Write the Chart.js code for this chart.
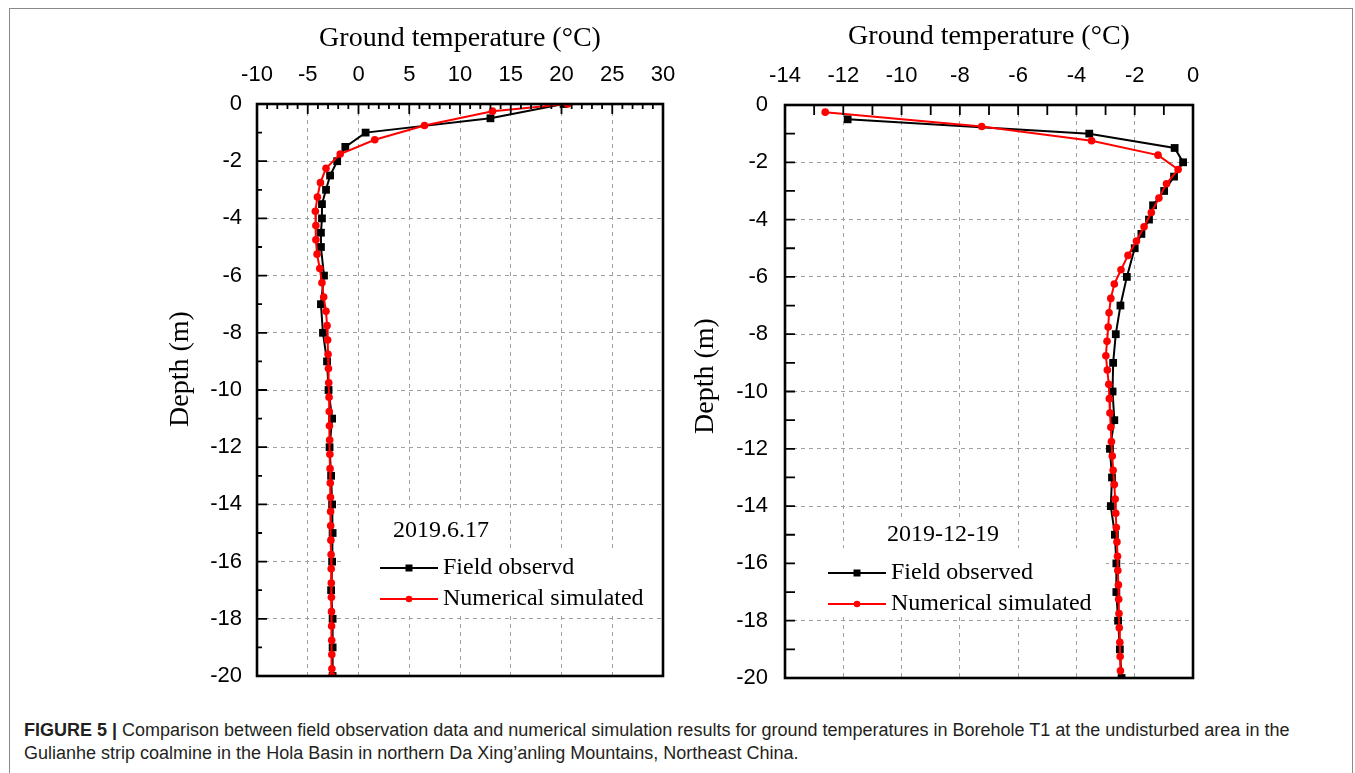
<!DOCTYPE html>
<html>
<head>
<meta charset="utf-8">
<script src="https://cdn.jsdelivr.net/npm/chart.js@4/dist/chart.umd.min.js"></script>
<style>
  body { margin: 0; background: #fff; width: 1355px; height: 773px; overflow: hidden; position: relative; }
  #frame { position: absolute; left: 9px; top: 8px; width: 1344px; height: 800px; border: 1px solid #8a8a8a; box-sizing: border-box; }
  canvas { position: absolute; top: 0; }
  #c1 { left: 140px; }
  #c2 { left: 680px; }
  #caption { position: absolute; left: 24px; top: 719px; width: 1285px; font: 18px Arial, "Liberation Sans", sans-serif; line-height: 23px; color: #231f20; }
  #caption b { font-weight: bold; }
</style>
</head>
<body>
<div id="frame"></div>
<canvas id="c1" width="540" height="700"></canvas>
<canvas id="c2" width="540" height="700"></canvas>
<div id="caption"><b>FIGURE 5 |</b> Comparison between field observation data and numerical simulation results for ground temperatures in Borehole T1 at the undisturbed area in the Gulianhe strip coalmine in the Hola Basin in northern Da Xing’anling Mountains, Northeast China.</div>
<script>
// ---------- data: 2019.6.17
const obsDepthJun = [0, -0.5, -1, -1.5, -2, -2.5, -3, -3.5, -4, -4.5, -5, -6, -7, -8, -9, -10, -11, -12, -13, -14, -15, -16, -17, -18, -19, -20];
const obsTempJun  = [20.2, 13.0, 0.7, -1.3, -2.1, -2.8, -3.2, -3.6, -3.6, -3.7, -3.7, -3.4, -3.7, -3.5, -3.1, -2.95, -2.6, -2.85, -2.7, -2.6, -2.55, -2.6, -2.7, -2.55, -2.55, -2.55];
const simDepthJun = [0, -0.25, -0.75, -1.25, -1.75, -2.25, -2.75, -3.25, -3.75, -4.25, -4.75, -5.25, -5.75, -6.25, -6.75, -7.25, -7.75, -8.25, -8.75, -9.25, -9.75,
  -10.25, -10.75, -11.25, -11.75, -12.25, -12.75, -13.25, -13.75, -14.25, -14.75, -15.25, -15.75, -16.25, -16.75, -17.25, -17.75, -18.25, -18.75, -19.25, -19.75, -20];
const simTempJun  = [20.6, 13.2, 6.5, 1.6, -1.8, -3.2, -3.75, -4.05, -4.25, -4.2, -4.2, -4.08, -3.82, -3.6, -3.43, -3.2, -3.1, -3.04, -3.0, -2.96, -2.93,
  -2.9, -2.88, -2.86, -2.84, -2.82, -2.8, -2.78, -2.76, -2.75, -2.74, -2.72, -2.7, -2.69, -2.68, -2.67, -2.66, -2.65, -2.64, -2.63, -2.62, -2.62];

// ---------- data: 2019-12-19
const obsDepthDec = [-0.5, -1, -1.5, -2, -2.5, -3, -3.5, -4, -4.5, -5, -6, -7, -8, -9, -10, -11, -12, -13, -14, -15, -16, -17, -18, -19, -20];
const obsTempDec  = [-11.85, -3.56, -0.63, -0.34, -0.65, -0.99, -1.37, -1.51, -1.77, -2.0, -2.27, -2.49, -2.65, -2.74, -2.76, -2.7, -2.85, -2.78, -2.82, -2.68, -2.63, -2.63, -2.57, -2.51, -2.45];
const simDepthDec = [-0.25, -0.75, -1.25, -1.75, -2.25, -2.75, -3.25, -3.75, -4.25, -4.75, -5.25, -5.75, -6.25, -6.75, -7.25, -7.75, -8.25, -8.75, -9.25, -9.75,
  -10.25, -10.75, -11.25, -11.75, -12.25, -12.75, -13.25, -13.75, -14.25, -14.75, -15.25, -15.75, -16.25, -16.75, -17.25, -17.75, -18.25, -18.75, -19.25, -19.75];
const simTempDec  = [-12.62, -7.25, -3.48, -1.2, -0.51, -0.91, -1.17, -1.43, -1.68, -1.94, -2.23, -2.47, -2.7, -2.82, -2.88, -2.91, -2.95, -2.99, -2.94, -2.89,
  -2.87, -2.85, -2.82, -2.8, -2.77, -2.74, -2.7, -2.67, -2.65, -2.63, -2.61, -2.59, -2.58, -2.56, -2.55, -2.54, -2.53, -2.51, -2.5, -2.49];

const depthTicks = [0, -2, -4, -6, -8, -10, -12, -14, -16, -18, -20];
const tempTicksJun = [-10, -5, 0, 5, 10, 15, 20, 25, 30];
const tempTicksDec = [-14, -12, -10, -8, -6, -4, -2, 0];

const SERIF = '"Times New Roman", "Liberation Serif", serif';
const SANS = 'Arial, "Liberation Sans", sans-serif';

function pts(xs, ys) { return xs.map((v, i) => ({x: v, y: ys[i]})); }

// box, inner ticks, white masks, y title, date text and legend
const framePlugin = {
  id: 'framePlugin',
  beforeDatasetsDraw(chart, args, o) {
    const ctx = chart.ctx;
    ctx.save();
    ctx.fillStyle = '#fff';
    o.masks.forEach(m => ctx.fillRect(m[0], m[1], m[2], m[3]));
    ctx.restore();
  },
  afterDatasetsDraw(chart, args, o) {
    const {ctx, chartArea: a, scales: {x, y}} = chart;
    ctx.save();
    ctx.strokeStyle = '#000';
    ctx.lineWidth = 1.8;
    ctx.beginPath();
    for (let v = x.min; v <= x.max + 1e-9; v += o.xMinor) {
      const px = x.getPixelForValue(v);
      const r = v / o.xMajor;
      const major = Math.abs(r - Math.round(r)) < 1e-6;
      ctx.moveTo(px, a.top);
      ctx.lineTo(px, a.top + (major ? o.majorLen : o.minorLen));
    }
    for (let v = y.min; v <= y.max + 1e-9; v += 1) {
      const py = y.getPixelForValue(v);
      const major = Math.abs(v % 2) < 1e-6;
      ctx.moveTo(a.left, py);
      ctx.lineTo(a.left + (major ? o.majorLen : o.minorLen), py);
    }
    ctx.stroke();
    ctx.lineWidth = 2.6;
    ctx.strokeRect(a.left, a.top, a.right - a.left, a.bottom - a.top);
    ctx.restore();
  },
  afterDraw(chart, args, o) {
    const ctx = chart.ctx;
    ctx.save();
    ctx.fillStyle = '#000';
    ctx.textBaseline = 'middle';
    ctx.textAlign = 'center';
    ctx.font = '28px ' + SERIF;
    ctx.save();
    ctx.translate(o.yTitle[0], o.yTitle[1]);
    ctx.rotate(-Math.PI / 2);
    ctx.fillText('Depth (m)', 0, 0);
    ctx.restore();
    ctx.font = '24px ' + SERIF;
    ctx.textAlign = 'left';
    ctx.fillText(o.date[0], o.date[1], o.date[2]);
    chart.data.datasets.forEach((ds, i) => {
      const ly = o.legend.y + i * o.legend.gap;
      const x0 = o.legend.x, x1 = o.legend.x + o.legend.len;
      ctx.strokeStyle = ds.borderColor;
      ctx.lineWidth = ds.borderWidth;
      ctx.beginPath();
      ctx.moveTo(x0, ly);
      ctx.lineTo(x1, ly);
      ctx.stroke();
      ctx.fillStyle = ds.backgroundColor;
      const mx = (x0 + x1) / 2;
      ctx.beginPath();
      if (ds.pointStyle === 'rect') ctx.rect(mx - 3.5, ly - 3.5, 7, 7);
      else ctx.arc(mx, ly, 3.3, 0, Math.PI * 2);
      ctx.fill();
      ctx.fillStyle = '#000';
      ctx.fillText(ds.label, x1 + 5, ly);
    });
    ctx.restore();
  }
};

function makeChart(id, cfg) {
  return new Chart(document.getElementById(id), {
    type: 'scatter',
    data: {
      datasets: [{
        label: cfg.obsLabel,
        data: pts(cfg.obsT, cfg.obsD),
        showLine: true,
        borderColor: '#000',
        backgroundColor: '#000',
        borderWidth: 2,
        pointStyle: 'rect',
        pointRadius: 5.5,
        pointBorderWidth: 0,
        order: 1
      }, {
        label: 'Numerical simulated',
        data: pts(cfg.simT, cfg.simD),
        showLine: true,
        borderColor: '#ff0000',
        backgroundColor: '#ff0000',
        borderWidth: 2,
        pointStyle: 'circle',
        pointRadius: 3.8,
        pointBorderWidth: 0,
        order: 0
      }]
    },
    options: {
      responsive: false,
      animation: false,
      devicePixelRatio: 1,
      layout: { padding: cfg.pad },
      plugins: {
        legend: { display: false },
        tooltip: { enabled: false },
        framePlugin: cfg.frame
      },
      scales: {
        x: {
          type: 'linear',
          position: 'top',
          min: cfg.xTicks[0],
          max: cfg.xTicks[cfg.xTicks.length - 1],
          afterBuildTicks: s => { s.ticks = cfg.xTicks.map(v => ({value: v})); },
          afterFit: s => { s.height = cfg.xH; s.paddingLeft = 0; s.paddingRight = 0; },
          grid: { color: '#a0a0a0', lineWidth: 1, drawTicks: false },
          border: { display: false, dash: [4, 4] },
          ticks: { color: '#000', padding: 16, font: { family: SANS, size: 22 } },
          title: { display: true, text: 'Ground temperature (°C)', color: '#000',
                   font: { family: SERIF, size: 28 }, padding: { top: cfg.xTitlePad, bottom: 0 } }
        },
        y: {
          type: 'linear',
          position: 'left',
          min: -20,
          max: 0,
          afterBuildTicks: s => { s.ticks = depthTicks.map(v => ({value: v})); },
          afterFit: s => { s.width = cfg.yW; s.paddingTop = 0; s.paddingBottom = 0; },
          grid: { color: '#a0a0a0', lineWidth: 1, drawTicks: false },
          border: { display: false, dash: [4, 4] },
          ticks: { color: '#000', padding: cfg.yTickPad, font: { family: SANS, size: 22 } }
        }
      }
    },
    plugins: [framePlugin]
  });
}

makeChart('c1', {
  obsLabel: 'Field observd',
  obsT: obsTempJun, obsD: obsDepthJun, simT: simTempJun, simD: simDepthJun,
  xTicks: tempTicksJun,
  pad: { left: 0, right: 17, top: 0, bottom: 24 },
  xH: 104, yW: 117, xTitlePad: 22, yTickPad: 15,
  frame: {
    xMajor: 5, xMinor: 1, majorLen: 10, minorLen: 5,
    yTitle: [41, 369],
    masks: [[243, 512, 115, 37], [203, 549, 320, 64]],
    date: ['2019.6.17', 253, 531],
    legend: { x: 240, y: 568, gap: 31, len: 58 }
  }
});

makeChart('c2', {
  obsLabel: 'Field observed',
  obsT: obsTempDec, obsD: obsDepthDec, simT: simTempDec, simD: simDepthDec,
  xTicks: tempTicksDec,
  pad: { left: 0, right: 27, top: 0, bottom: 22 },
  xH: 105, yW: 105, xTitlePad: 20, yTickPad: 17,
  frame: {
    xMajor: 2, xMinor: 1, majorLen: 10, minorLen: 10,
    yTitle: [26, 376],
    masks: [[200, 517, 135, 33], [115, 548, 311, 67]],
    date: ['2019-12-19', 207, 535],
    legend: { x: 148, y: 573, gap: 31, len: 58 }
  }
});
</script>
</body>
</html>
